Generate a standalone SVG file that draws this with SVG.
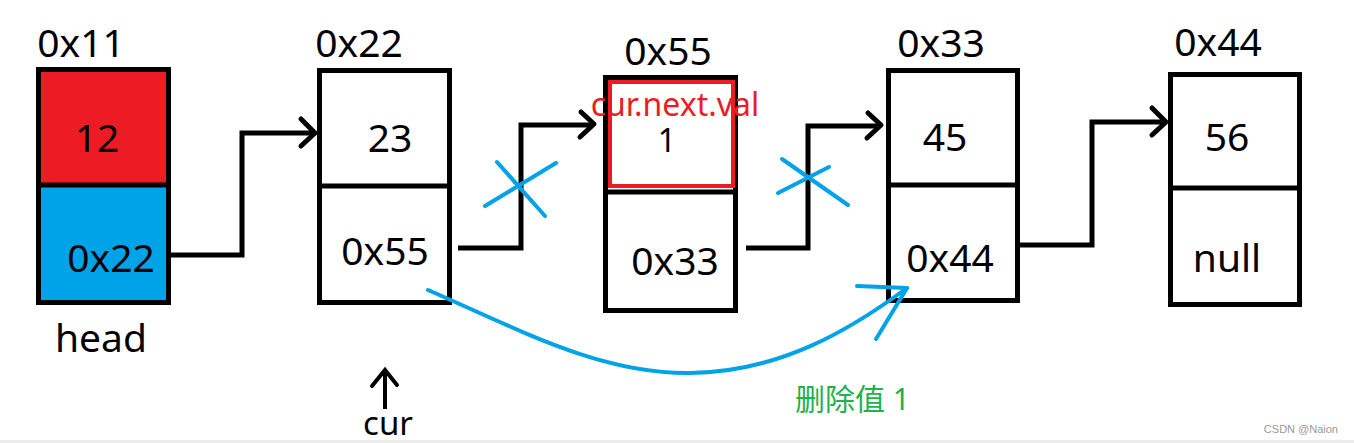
<svg xmlns="http://www.w3.org/2000/svg" width="1354" height="443" viewBox="0 0 1354 443">
<style>
.box{fill:#fff;stroke:#000;stroke-width:5}
.div{stroke:#000;stroke-width:5}
.t{font-family:"Noto Sans","Open Sans","Liberation Sans",sans-serif;font-size:39px;fill:#000;text-anchor:middle}
.c{fill:none;stroke:#000;stroke-width:5;stroke-linejoin:miter}
.h{fill:none;stroke:#000;stroke-width:5;stroke-linecap:round;stroke-linejoin:round}
.b{fill:none;stroke:#00A2E8;stroke-width:4;stroke-linecap:round}
</style>
<rect width="1354" height="443" fill="#fff"/>
<rect x="0" y="440" width="1354" height="3" fill="#ececec"/>
<g id="node-0x11">
<rect x="38.5" y="69.5" width="130" height="116" fill="#ED1C24"/>
<rect x="38.5" y="185" width="130" height="117.5" fill="#00A2E8"/>
<rect x="38.5" y="69.5" width="130" height="233" fill="none" stroke="#000" stroke-width="5"/>
<line class="div" x1="36" y1="185" x2="171" y2="185"/>
<text class="t" x="81" y="57">0x11</text>
<text class="t" x="97" y="152">12</text>
<text class="t" x="111" y="272">0x22</text>
<text class="t" x="101" y="352">head</text>
</g>
<g id="node-0x22">
<rect class="box" x="319.5" y="70.5" width="130" height="232"/>
<line class="div" x1="317" y1="186" x2="452" y2="186"/>
<text class="t" x="359" y="57">0x22</text>
<text class="t" x="390" y="152">23</text>
<text class="t" x="385" y="265">0x55</text>
</g>
<g id="node-0x55">
<rect class="box" x="605.5" y="77.5" width="130" height="233"/>
<line class="div" x1="603" y1="192" x2="738" y2="192"/>
<rect x="610" y="82" width="123" height="104" fill="none" stroke="#ED1C24" stroke-width="4"/>
<text class="t" x="668" y="65">0x55</text>
<text class="t" x="667" y="152" style="font-size:32px">1</text>
<text class="t" x="675" y="116" style="font-size:32px;fill:#ED1C24">cur.next.val</text>
<text class="t" x="675" y="275">0x33</text>
</g>
<g id="node-0x33">
<rect class="box" x="888.5" y="70.5" width="129" height="230"/>
<line class="div" x1="886" y1="185" x2="1020" y2="185"/>
<text class="t" x="941" y="57">0x33</text>
<text class="t" x="945" y="151">45</text>
<text class="t" x="950" y="272">0x44</text>
</g>
<g id="node-0x44">
<rect class="box" x="1170.5" y="74.5" width="129" height="230"/>
<line class="div" x1="1168" y1="188" x2="1302" y2="188"/>
<text class="t" x="1218" y="56">0x44</text>
<text class="t" x="1227" y="151">56</text>
<text class="t" x="1227" y="272">null</text>
</g>
<g id="connectors">
<polyline class="c" points="171,255 242,255 242,133 315,133"/>
<polyline class="h" points="301,119 315,133 301,146"/>
<polyline class="c" points="458,248 521,248 521,125 593,125"/>
<polyline class="h" points="581,112 594,124 580,137"/>
<polyline class="c" points="746,248 808,248 808,126 880,126"/>
<polyline class="h" points="868,113 881,125 867,138"/>
<polyline class="c" points="1020,245 1092,245 1092,122 1165,122"/>
<polyline class="h" points="1152,108 1166,122 1152,135"/>
<line class="b" x1="497" y1="162" x2="545" y2="216"/>
<line class="b" x1="485" y1="206" x2="556" y2="163"/>
<line class="b" x1="782" y1="159" x2="848" y2="205"/>
<line class="b" x1="778" y1="193" x2="829" y2="167"/>
<path class="b" d="M428,290 C520,330 600,374 690,373 C780,372 850,330 907,288"/>
<polyline class="b" points="857,286 907,288 876,339" stroke-linejoin="round"/>
<line x1="385" y1="409" x2="385" y2="370" stroke="#000" stroke-width="4"/>
<polyline points="372,386 385,370 397,385" fill="none" stroke="#000" stroke-width="4" stroke-linecap="round"/>
</g>
<text class="t" x="388" y="435" style="font-size:33px">cur</text>
<text x="795" y="410" style="font-family:'Noto Sans','Noto Sans CJK SC',sans-serif;font-size:30px;fill:#22B14C">删除值 1</text>
<text x="1338" y="433" style="font-family:'Liberation Sans',sans-serif;font-size:11px;fill:#999;text-anchor:end">CSDN @Naion</text>
</svg>
